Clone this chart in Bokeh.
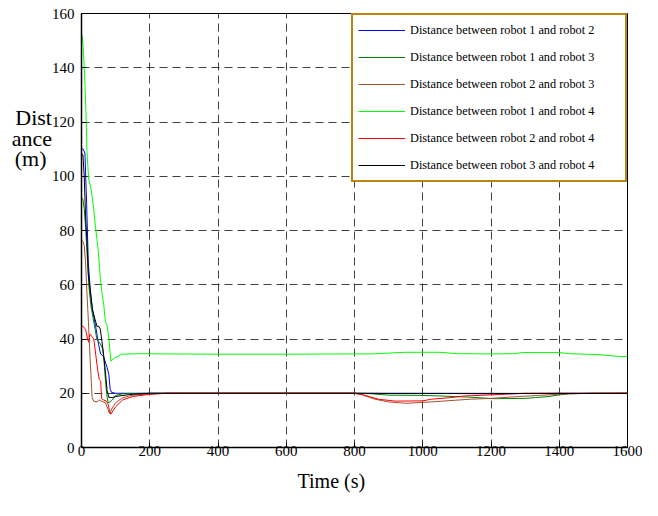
from bokeh.plotting import figure
from bokeh.models import Range1d, FixedTicker, Legend, LegendItem, Title
from bokeh.embed import file_html
from bokeh.resources import INLINE

# ---- data ----
x_ticks = [0, 200, 400, 600, 800, 1000, 1200, 1400, 1600]
y_ticks = [0, 20, 40, 60, 80, 100, 120, 140, 160]

labels = ["Distance between robot 1 and robot 2",
          "Distance between robot 1 and robot 3",
          "Distance between robot 2 and robot 3",
          "Distance between robot 1 and robot 4",
          "Distance between robot 2 and robot 4",
          "Distance between robot 3 and robot 4"]
colors = ["#0000ff", "#008000", "#a0522d", "#00ff00", "#ff0000", "#000000"]

t12 = [0, 5, 10, 15, 20, 26, 32, 41, 50, 56, 65, 71, 75, 80, 84, 88, 100, 150, 400, 800,
       900, 1000, 1100, 1200, 1250, 1300, 1400, 1500, 1600]
d12 = [110.2, 110, 108.5, 90, 68, 58, 51, 45, 38, 34.5, 33.5, 31, 29.5, 27, 21.5, 20.3, 20, 20, 20, 20,
       19.9, 19.9, 19.9, 19.8, 19.8, 19.9, 20, 20, 20]

t13 = [0, 4, 8, 12, 17, 22, 28, 35, 45, 55, 62, 66, 70, 74, 78, 84, 90, 100, 120, 200, 800,
       850, 900, 1000, 1050, 1130, 1210, 1300, 1330, 1370, 1400, 1430, 1500, 1600]
d13 = [92.1, 91.5, 88, 81, 70, 59, 52, 47, 40, 38.2, 36.5, 32, 25, 19.5, 16.5, 16.8, 17.5, 19.2, 19.8, 20, 20,
       19.8, 19.3, 19.2, 19.0, 18.6, 18.0, 18.1, 18.4, 18.8, 19.4, 19.8, 20, 20]

t23 = [0, 4, 8, 12, 16, 20, 24, 28, 31, 36, 46, 52, 60, 70, 78, 82, 90, 100, 120, 150, 200, 250, 800,
       820, 860, 900, 950, 1025, 1080, 1140, 1200, 1270, 1340, 1420, 1500, 1600]
d23 = [76.5, 76, 74.5, 68, 57, 47, 36, 26, 18.5, 17, 16.8, 17.5, 17, 16.5, 14, 12.5, 14.5, 16.5, 18.3, 19.3, 19.8, 20, 20,
       19.5, 17.8, 16.8, 16.3, 16.8, 17.3, 17.8, 18.1, 18.7, 19.2, 19.8, 20, 20.2]

t14 = [0, 3, 6, 9, 13, 16, 21, 28, 34, 40, 45, 50, 55, 60, 65, 70, 75, 81, 86, 92, 99, 118, 170, 250,
       400, 600, 800, 850, 900, 950, 1050, 1100, 1200, 1270, 1290, 1400, 1430, 1520, 1570, 1600]
d14 = [152.7, 151, 145, 138, 124, 109, 99, 95.3, 90, 82.4, 77, 71.3, 62.6, 57, 52.9, 46.6, 45, 39.3, 31.9, 32.5, 33.1, 34.4, 34.6, 34.5,
       34.4, 34.4, 34.5, 34.5, 34.8, 35.1, 35.1, 34.6, 34.5, 34.6, 35.0, 35.0, 34.6, 34.2, 33.6, 33.5]

t24 = [0, 6, 12, 18, 21, 25, 30, 36, 42, 47, 52, 56, 59, 65, 72, 78, 82, 86, 92, 100, 120, 150, 200, 250, 800,
       820, 870, 920, 1000, 1025, 1083, 1122, 1200, 1260, 1300, 1600]
d24 = [45, 44.5, 43.5, 40, 38.8, 41.8, 41, 40, 34, 29, 25, 24.5, 18, 17.5, 17.2, 16, 13.5, 12.3, 13.5, 15, 17.5, 18.8, 19.6, 20, 20,
       19.6, 17.8, 17.1, 17.2, 17.8, 18.4, 19.0, 19.4, 19.8, 20, 20]

t34 = [0, 4, 8, 12, 16, 20, 26, 32, 40, 46, 50, 55, 60, 65, 70, 75, 80, 90, 100, 140, 200, 800, 1600]
d34 = [108.3, 108, 100, 85, 76, 64, 57, 51, 47, 44.5, 44.8, 43.7, 39, 34, 28, 21, 18.5, 18.4, 18.8, 19.5, 20, 20, 19.9]

series = [(t12, d12), (t13, d13), (t23, d23), (t14, d14), (t24, d24), (t34, d34)]

y_title_lines = ["Dist", "ance", "(m)\u00a0"]
x_title = "Time (s)"

SERIF = "Liberation Serif"

p = figure(width=642, height=500, output_backend="svg", toolbar_location=None,
           x_range=Range1d(0, 1600), y_range=Range1d(0, 160),
           min_border_left=81, min_border_right=15, min_border_top=13, min_border_bottom=53)
p.background_fill_color = "white"
p.border_fill_color = "white"
p.outline_line_color = "black"
p.outline_line_width = 1

renderers = []
for (tt, dd), c in zip(series, colors):
    r = p.line(tt, dd, line_color=c, line_width=1)
    renderers.append(r)

for ax, ticks in ((p.xaxis, x_ticks), (p.yaxis, y_ticks)):
    ax.ticker = FixedTicker(ticks=ticks)
    ax.major_tick_in = 5
    ax.major_tick_out = 0
    ax.minor_tick_line_color = None
    ax.axis_line_color = "black"
    ax.axis_line_width = 1.5
    ax.major_tick_line_color = "black"
    ax.major_label_text_font = SERIF
    ax.major_label_text_font_size = "15px"
    ax.major_label_text_color = "black"
p.xaxis.major_label_standoff = -2
p.yaxis.major_label_standoff = 7

# y title: horizontal, multi-line; blank trailing lines lift it up the axis
p.yaxis.axis_label = "\n".join(y_title_lines + [""] * 9)
p.yaxis.axis_label_orientation = "horizontal"
p.yaxis.axis_label_text_font = SERIF
p.yaxis.axis_label_text_font_size = "22px"
p.yaxis.axis_label_text_font_style = "normal"
p.yaxis.axis_label_text_color = "black"
p.yaxis.axis_label_text_line_height = 0.82
p.yaxis.axis_label_text_align = "left"
p.yaxis.axis_label_standoff = -3

p.grid.grid_line_color = "black"
p.grid.grid_line_alpha = 0.75
p.grid.grid_line_dash = "8 5"
p.grid.grid_line_width = 1
p.xgrid.ticker = FixedTicker(ticks=x_ticks)
p.ygrid.ticker = FixedTicker(ticks=y_ticks)

# x title
p.add_layout(Title(text=x_title, align="left", offset=216, text_font=SERIF,
                   text_font_size="20px", text_font_style="normal", text_color="black",
                   vertical_align="bottom", text_baseline="middle",
                   text_line_height=0.6, standoff=18), "below")

items = [LegendItem(label=l, renderers=[r]) for l, r in zip(labels, renderers)]
legend = Legend(items=items, location="top_right", margin=0, padding=5, spacing=7,
                glyph_width=47, glyph_height=20, label_height=20, label_standoff=5,
                label_width=210,
                label_text_font=SERIF, label_text_font_size="12.3px", label_text_color="black",
                border_line_color="#b8860b", border_line_width=2, border_line_alpha=1,
                background_fill_color="white", background_fill_alpha=1)
p.add_layout(legend, "center")

open("out.html", "w").write(file_html(p, INLINE))
